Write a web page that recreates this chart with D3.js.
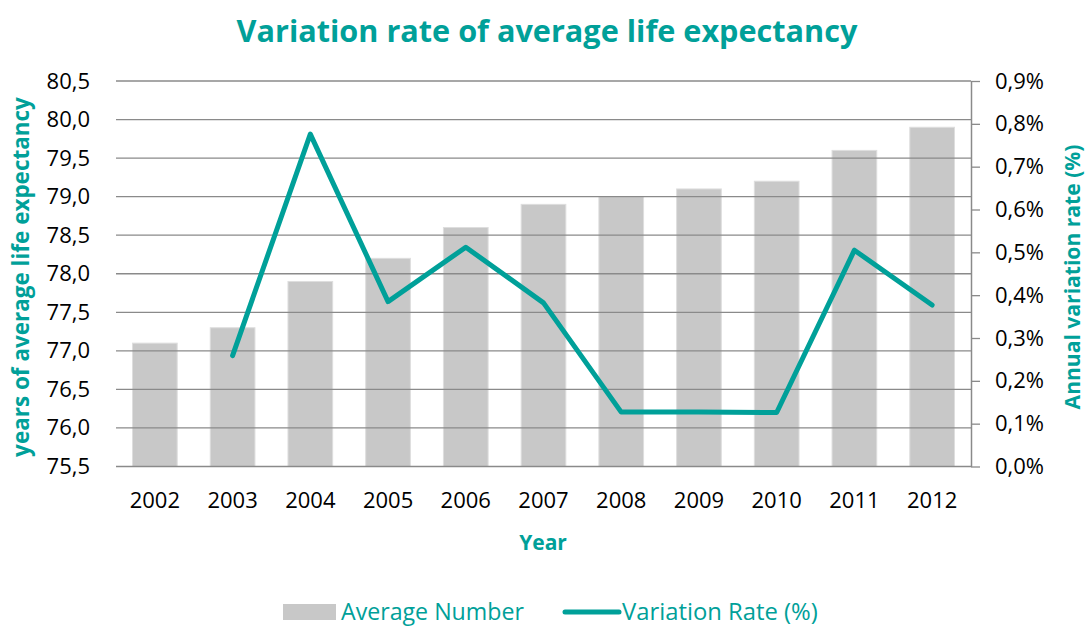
<!DOCTYPE html>
<html>
<head>
<meta charset="utf-8">
<script src="https://cdn.jsdelivr.net/npm/d3@7"></script>
<style>
  body { margin: 0; background: #fff; }
  svg { display: block; font-family: "Open Sans", sans-serif; }
</style>
</head>
<body>
<script>
var years = ["2002", "2003", "2004", "2005", "2006", "2007", "2008", "2009", "2010", "2011", "2012"]
var avgLife = [77.1, 77.3, 77.9, 78.2, 78.6, 78.9, 79.0, 79.1, 79.2, 79.6, 79.9]
var rateYears = ["2003", "2004", "2005", "2006", "2007", "2008", "2009", "2010", "2011", "2012"]
var rates = [0.259, 0.776, 0.385, 0.512, 0.382, 0.127, 0.127, 0.126, 0.505, 0.377]
var leftTicks = [75.5, 76.0, 76.5, 77.0, 77.5, 78.0, 78.5, 79.0, 79.5, 80.0, 80.5]
var rightTicks = [0, 0.1, 0.2, 0.3, 0.4, 0.5, 0.6, 0.7, 0.8, 0.9]

var width = 1086
var height = 628
var teal = "#00a099"
var barGray = "#c8c8c8"
var gridGray = "#8a8a8a"

var plot = { left: 116, right: 971, top: 81, bottom: 466.5 }

var loc = d3.formatLocale({ decimal: ",", thousands: ".", grouping: [3], currency: ["", ""] })
var fmtLeft = loc.format(".1f")
var fmtRight = function(d) { return loc.format(".1f")(d) + "%" }

var svg = d3.select("body").append("svg")
  .attr("width", width)
  .attr("height", height)

var x = d3.scaleBand()
  .domain(years)
  .range([plot.left, plot.right])
  .paddingInner(0.425)
  .paddingOuter(0.2125)

var yL = d3.scaleLinear().domain([75.5, 80.5]).range([plot.bottom, plot.top])
var yR = d3.scaleLinear().domain([0, 0.9]).range([plot.bottom, plot.top])

// shrink a text until it is no wider than w
function fit(sel, w) {
  var node = sel.node()
  var fs = parseFloat(sel.style("font-size"))
  var len = node.getComputedTextLength()
  sel.style("font-size", (fs * w / len) + "px")
}

// bars
svg.append("g").selectAll("rect")
  .data(avgLife)
  .join("rect")
  .attr("x", function(d, i) { return x(years[i]) })
  .attr("width", x.bandwidth())
  .attr("y", function(d) { return yL(d) })
  .attr("height", function(d) { return yL(75.5) - yL(d) })
  .attr("fill", barGray)
  .attr("stroke", "#dedede")
  .attr("stroke-width", 1)

// gridlines (drawn over the bars, as in the original)
svg.append("g").selectAll("line")
  .data(leftTicks)
  .join("line")
  .attr("x1", plot.left)
  .attr("x2", plot.right)
  .attr("y1", function(d) { return yL(d) })
  .attr("y2", function(d) { return yL(d) })
  .attr("stroke", gridGray)
  .attr("stroke-width", 1.3)

// left axis
var gl = svg.append("g")
  .attr("transform", "translate(" + plot.left + ",0)")
  .call(d3.axisLeft(yL).tickValues(leftTicks).tickFormat(fmtLeft).tickSize(0).tickPadding(26))
gl.select(".domain").remove()
gl.selectAll("text").style("font-size", "22px").attr("fill", "#000").style("font-family", "Open Sans")

// right axis
var gr = svg.append("g")
  .attr("transform", "translate(" + plot.right + ",0)")
  .call(d3.axisRight(yR).tickValues(rightTicks).tickFormat(fmtRight).tickSize(9).tickSizeOuter(0).tickPadding(15))
gr.select(".domain").attr("stroke", gridGray).attr("stroke-width", 1.5)
gr.selectAll(".tick line").attr("stroke", gridGray).attr("stroke-width", 1.3)
gr.selectAll("text").style("font-size", "22px").attr("fill", "#000").style("font-family", "Open Sans")

// bottom axis
var gb = svg.append("g")
  .attr("transform", "translate(0," + plot.bottom + ")")
  .call(d3.axisBottom(x).tickSize(0).tickPadding(0))
gb.select(".domain").remove()
gb.selectAll("text")
  .attr("y", 41.5).attr("dy", 0)
  .style("font-size", "22px").attr("fill", "#000").style("font-family", "Open Sans")

// variation line
var line = d3.line()
  .x(function(d, i) { return x(rateYears[i]) + x.bandwidth() / 2 })
  .y(function(d) { return yR(d) })

svg.append("path")
  .datum(rates)
  .attr("d", line)
  .attr("fill", "none")
  .attr("stroke", teal)
  .attr("stroke-width", 5)
  .attr("stroke-linecap", "round")
  .attr("stroke-linejoin", "round")

// titles
var title = svg.append("text")
  .attr("x", 547).attr("y", 42)
  .attr("text-anchor", "middle")
  .attr("fill", teal)
  .style("font-weight", "bold")
  .style("font-size", "31px")
  .text("Variation rate of average life expectancy")
fit(title, 621)

svg.append("text")
  .attr("x", 543).attr("y", 550)
  .attr("text-anchor", "middle")
  .attr("fill", teal)
  .style("font-weight", "bold")
  .style("font-size", "21px")
  .text("Year")

var lt = svg.append("text")
  .attr("transform", "translate(29,277) rotate(-90)")
  .attr("text-anchor", "middle")
  .attr("fill", teal)
  .style("font-weight", "bold")
  .style("font-size", "21px")
  .text("years of average life expectancy")
fit(lt, 360)

var rt = svg.append("text")
  .attr("transform", "translate(1080,277) rotate(-90)")
  .attr("text-anchor", "middle")
  .attr("fill", teal)
  .style("font-weight", "bold")
  .style("font-size", "21px")
  .text("Annual variation rate (%)")
fit(rt, 265)

// legend
var leg = svg.append("g")
leg.append("rect")
  .attr("x", 283).attr("y", 604).attr("width", 53).attr("height", 16)
  .attr("fill", barGray)
var l1 = leg.append("text")
  .attr("x", 341).attr("y", 620)
  .attr("fill", teal)
  .style("font-size", "21px")
  .text("Average Number")
fit(l1, 183)
leg.append("line")
  .attr("x1", 565).attr("x2", 619).attr("y1", 612).attr("y2", 612)
  .attr("stroke", teal).attr("stroke-width", 5).attr("stroke-linecap", "round")
var l2 = leg.append("text")
  .attr("x", 622).attr("y", 620)
  .attr("fill", teal)
  .style("font-size", "21px")
  .text("Variation Rate (%)")
fit(l2, 196)
</script>
</body>
</html>
